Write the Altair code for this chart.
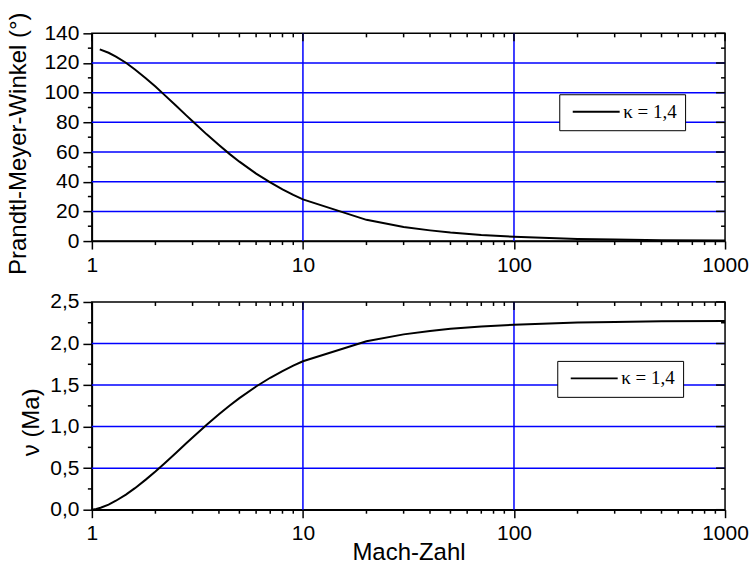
import altair as alt
import pandas as pd

# ---- data ----
mach_top = [1.09, 1.2, 1.3, 1.45, 1.6, 1.8, 2.0, 2.2, 2.5, 2.8, 3.0, 3.5, 4.0, 4.5,
            5.0, 6.0, 7.0, 8.0, 9.0, 10, 20, 30, 40, 50, 70, 100, 200, 300, 500, 1000]
angle_deg = [129.2, 126.9, 124.3, 120.2, 115.6, 109.7, 104.1, 98.7, 91.3, 84.7, 80.7,
             71.9, 64.7, 58.6, 53.5, 45.5, 39.5, 34.8, 31.1, 28.1, 14.3, 9.5, 7.2,
             5.7, 4.1, 2.9, 1.4, 1.0, 0.6, 0.3]

mach_bot = [1.0, 1.05, 1.1, 1.2, 1.3, 1.45, 1.6, 1.8, 2.0, 2.2, 2.5, 2.8, 3.0, 3.5,
            4.0, 4.5, 5.0, 6.0, 7.0, 8.0, 9.0, 10, 20, 30, 40, 50, 70, 100, 200,
            300, 500, 1000]
nu_rad = [0.0, 0.009, 0.023, 0.062, 0.108, 0.182, 0.259, 0.362, 0.460, 0.554, 0.683,
          0.799, 0.869, 1.022, 1.148, 1.254, 1.343, 1.483, 1.588, 1.669, 1.734, 1.786,
          2.027, 2.110, 2.152, 2.177, 2.205, 2.227, 2.252, 2.260, 2.267, 2.272]

legend_label = "κ = 1,4"

x_major = [1, 10, 100, 1000]
x_minor = [2, 3, 4, 5, 6, 7, 8, 9, 20, 30, 40, 50, 60, 70, 80, 90,
           200, 300, 400, 500, 600, 700, 800, 900]
x_grid = [10, 100]

y1_major = [0, 20, 40, 60, 80, 100, 120, 140]
y1_minor = [10, 30, 50, 70, 90, 110, 130]
y1_grid = [20, 40, 60, 80, 100, 120]

y2_major = [0.0, 0.5, 1.0, 1.5, 2.0, 2.5]
y2_minor = [0.25, 0.75, 1.25, 1.75, 2.25]
y2_grid = [0.5, 1.0, 1.5, 2.0]

W, H = 634, 208
BLUE = "#0000ff"
FONT = "Liberation Sans"


def panel(mach, vals, ydom, ymaj, ymin, ygrid, ytitle, xtitle, title_y, title_pad,
          lx, ly, ylabel_expr):
    xs = alt.Scale(type="log", domain=[1, 1000], nice=False)
    ys = alt.Scale(domain=ydom, nice=False, zero=False)

    line_df = pd.DataFrame({"Ma": mach, "v": vals, "k": legend_label})

    xaxis = alt.Axis(values=x_major, labelExpr="format(datum.value, 'd')",
                     tickSize=8, labelPadding=5,
                     labelFlush=False, labelOverlap=False, grid=False,
                     titlePadding=-3)
    yaxis = alt.Axis(values=ymaj, labelExpr=ylabel_expr, tickSize=9,
                     labelPadding=4, grid=False, titlePadding=title_pad,
                     titleY=title_y)

    def xe(field):
        return alt.X(field, scale=xs, axis=xaxis, title=xtitle)

    def ye(field):
        return alt.Y(field, scale=ys, axis=yaxis, title=ytitle)

    line = alt.Chart(line_df).mark_line(strokeWidth=2).encode(
        x=xe("Ma:Q"),
        y=ye("v:Q"),
        color=alt.Color("k:N", scale=alt.Scale(range=["black"]),
                        legend=alt.Legend(orient="none", legendX=lx, legendY=ly,
                                          title=None,
                                          symbolType="M-0.8,0H8.6",
                                          symbolSize=100, symbolStrokeWidth=2,
                                          labelFont="Liberation Serif",
                                          labelFontSize=19, labelColor="black",
                                          labelOffset=37, labelLimit=200,
                                          strokeColor="black",
                                          fillColor="white", padding=8)),
    )

    def tdf(vals_):
        return pd.DataFrame({"t": vals_})

    grid_h = alt.Chart(tdf(ygrid)).mark_rule(color=BLUE, strokeWidth=1.5).encode(y=ye("t:Q"))
    grid_v = alt.Chart(tdf(x_grid)).mark_rule(color=BLUE, strokeWidth=1.5).encode(x=xe("t:Q"))

    tk = dict(color="black", strokeWidth=1.5)
    left_minor = alt.Chart(tdf(ymin)).mark_rule(**tk).encode(
        y=ye("t:Q"), x=alt.value(0), x2=alt.value(-4))
    right_major = alt.Chart(tdf(ymaj)).mark_rule(**tk).encode(
        y=ye("t:Q"), x=alt.value(W), x2=alt.value(W - 9))
    right_minor = alt.Chart(tdf(ymin)).mark_rule(**tk).encode(
        y=ye("t:Q"), x=alt.value(W), x2=alt.value(W - 4))
    top_major = alt.Chart(tdf(x_major)).mark_rule(**tk).encode(
        x=xe("t:Q"), y=alt.value(0), y2=alt.value(8))
    top_minor = alt.Chart(tdf(x_minor)).mark_rule(**tk).encode(
        x=xe("t:Q"), y=alt.value(0), y2=alt.value(4))
    bottom_minor = alt.Chart(tdf(x_minor)).mark_rule(**tk).encode(
        x=xe("t:Q"), y=alt.value(H), y2=alt.value(H + 4))

    return alt.layer(grid_h, grid_v, line, left_minor, right_major, right_minor,
                     top_major, top_minor, bottom_minor).properties(width=W, height=H)


top = panel(mach_top, angle_deg, [0, 140], y1_major, y1_minor, y1_grid,
            "Prandtl-Meyer-Winkel (°)", None, 110, 13, 468, 61,
            "format(datum.value, 'd')")
bottom = panel(mach_bot, nu_rad, [0, 2.5], y2_major, y2_minor, y2_grid,
               "ν (Ma)", "Mach-Zahl", 120, 6, 466, 59,
               "replace(format(datum.value, '.1f'), '.', ',')")

chart = alt.vconcat(top, bottom, spacing=14).resolve_scale(
    color="independent"
).resolve_legend(color="independent").properties(
    padding={"left": 6, "top": 10, "right": 5, "bottom": 3},
    background="white",
).configure_view(
    stroke="black", strokeWidth=1.5
).configure_axis(
    labelFont=FONT, labelFontSize=21, labelColor="black",
    titleFont=FONT, titleFontSize=24, titleColor="black", titleFontWeight="normal",
    domainColor="black", domainWidth=1.5, tickColor="black", tickWidth=1.5,
)

chart.save("out.html", embed_options={"renderer": "svg", "actions": False})
